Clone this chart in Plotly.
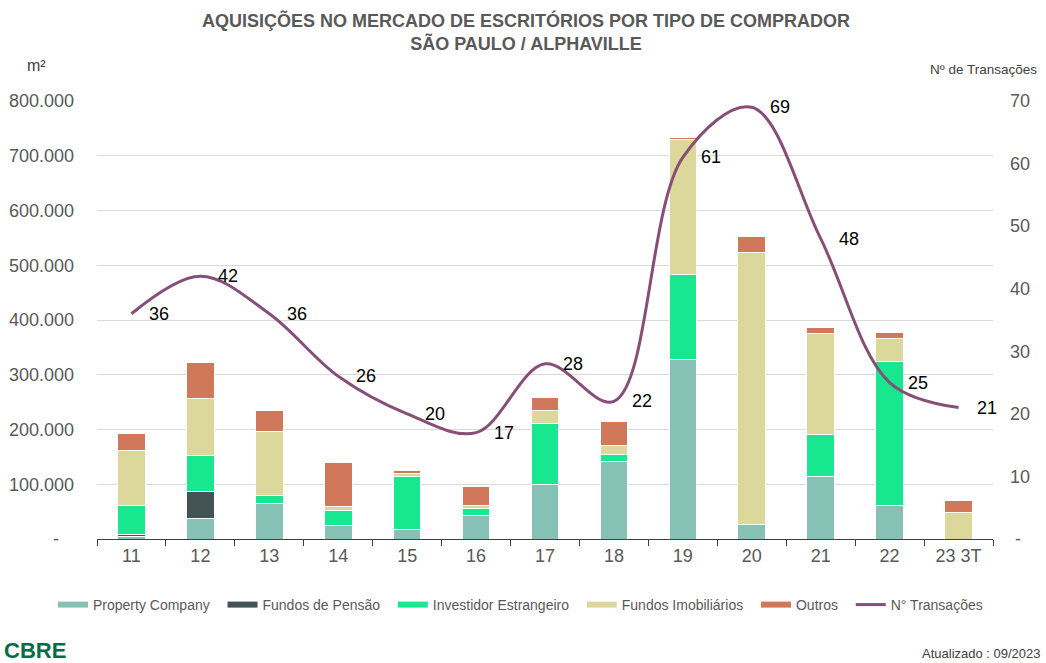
import plotly.graph_objects as go

# Períodos (ano / trimestre)
periodos = ["11", "12", "13", "14", "15", "16", "17", "18", "19", "20", "21", "22", "23 3T"]

# Área adquirida (m²) por tipo de comprador
property_company = [5000, 37000, 64000, 25000, 17000, 43000, 99000, 142000, 328000, 27000, 114000, 62000, 0]
fundos_pensao = [3000, 50000, 0, 0, 0, 0, 0, 0, 0, 0, 0, 0, 0]
investidor_estrangeiro = [54000, 65000, 16000, 27000, 97000, 12000, 112000, 12000, 156000, 0, 77000, 262000, 0]
fundos_imobiliarios = [99000, 104000, 116000, 8000, 5000, 7000, 23000, 16000, 246000, 496000, 185000, 42000, 49000]
outros = [32000, 66000, 38000, 79000, 6000, 33000, 24000, 44000, 4000, 29000, 11000, 11000, 21000]

# Número de transações
transacoes = [36, 42, 36, 26, 20, 17, 28, 22, 61, 69, 48, 25, 21]

# Rótulos dos eixos
m2_ticks = [0, 100000, 200000, 300000, 400000, 500000, 600000, 700000, 800000]
m2_labels = ["-\u00a0\u00a0\u00a0", "100.000", "200.000", "300.000", "400.000",
             "500.000", "600.000", "700.000", "800.000"]
tx_ticks = [0, 10, 20, 30, 40, 50, 60, 70]
tx_labels = ["\u00a0-", "10", "20", "30", "40", "50", "60", "70"]

series = [
    ("Property Company", property_company, "#85C1B4"),
    ("Fundos de Pensão", fundos_pensao, "#435254"),
    ("Investidor Estrangeiro", investidor_estrangeiro, "#17E88F"),
    ("Fundos Imobiliários", fundos_imobiliarios, "#DCD89C"),
    ("Outros", outros, "#D2785A"),
]
line_color = "#874F77"
grey = "#595959"
font = "Liberation Sans, Arial, sans-serif"
pad = "\u00a0\u00a0"  # extra room between legend entries

fig = go.Figure()

for name, vals, color in series:
    fig.add_trace(go.Bar(
        x=periodos, y=vals, name=name, showlegend=False,
        marker=dict(color=color, line=dict(color="white", width=1)),
    ))

# legend entries drawn as wide colour strips
for name, vals, color in series:
    fig.add_trace(go.Scatter(
        x=[None], y=[None], mode="lines", name=name + pad,
        line=dict(color=color, width=6),
    ))

fig.add_trace(go.Scatter(
    x=periodos, y=transacoes, name="N° Transações" + pad, yaxis="y2",
    mode="lines", line=dict(color=line_color, width=3, shape="spline", smoothing=1.0),
))

# value labels to the right of each point (category index positions)
for i, v in enumerate(transacoes):
    fig.add_annotation(
        x=i, y=v, xref="x", yref="y2", text=str(v), showarrow=False,
        xanchor="left", yanchor="middle", xshift=16,
        font=dict(size=18, color="black", family=font),
    )

# chart title
fig.add_annotation(
    xref="paper", yref="paper", x=0.479, y=(539 - 8) / 438,
    text="<b>AQUISIÇÕES NO MERCADO DE ESCRITÓRIOS POR TIPO DE COMPRADOR<br>SÃO PAULO / ALPHAVILLE</b>",
    showarrow=False, xanchor="center", yanchor="top",
    font=dict(size=18, color=grey, family=font),
)
fig.add_annotation(
    xref="paper", yref="paper", x=-0.068, y=1.08, text="m²", showarrow=False,
    xanchor="center", yanchor="middle", font=dict(size=16, color="#404040", family=font),
)
fig.add_annotation(
    xref="paper", yref="paper", x=0.928, y=1.071, text="Nº de Transações", showarrow=False,
    xanchor="left", yanchor="middle", font=dict(size=13.5, color="#404040", family=font),
)
fig.add_annotation(
    xref="paper", yref="paper", x=-0.106, y=-0.255, text="<b>CBRE</b>", showarrow=False,
    xanchor="left", yanchor="middle", font=dict(size=22, color="#0B6B46", family=font),
)
fig.add_annotation(
    xref="paper", yref="paper", x=1.056, y=-0.262, text="Atualizado : 09/2023", showarrow=False,
    xanchor="right", yanchor="middle", font=dict(size=13, color="#404040", family=font),
)

fig.update_layout(
    width=1046, height=663,
    margin=dict(l=97, r=53, t=101, b=124, autoexpand=False),
    paper_bgcolor="white", plot_bgcolor="white",
    barmode="stack", bargap=0.6,
    font=dict(family=font, color=grey),
    xaxis=dict(
        type="category", range=[-0.5, 12.5], automargin=False,
        showline=True, linecolor="#404040", linewidth=1,
        ticks="outside", tickson="boundaries", ticklen=6, tickcolor="#404040",
        tickfont=dict(size=18, color=grey), showgrid=False,
    ),
    yaxis=dict(
        range=[0, 800000], tickvals=m2_ticks, ticktext=m2_labels, automargin=False,
        showgrid=True, gridcolor="#D9D9D9", gridwidth=1, zeroline=False,
        tickfont=dict(size=18, color=grey), ticklabelstandoff=22,
    ),
    yaxis2=dict(
        range=[0, 70], tickvals=tx_ticks, ticktext=tx_labels, automargin=False,
        overlaying="y", side="right", showgrid=False, zeroline=False,
        tickfont=dict(size=18, color=grey), ticklabelstandoff=16,
    ),
    legend=dict(
        orientation="h", traceorder="normal",
        x=(53 - 97) / 896, xanchor="left", y=(539 - 605) / 438, yanchor="middle",
        font=dict(size=14, color=grey), bgcolor="rgba(0,0,0,0)",
    ),
)

fig.write_html("out.html")
